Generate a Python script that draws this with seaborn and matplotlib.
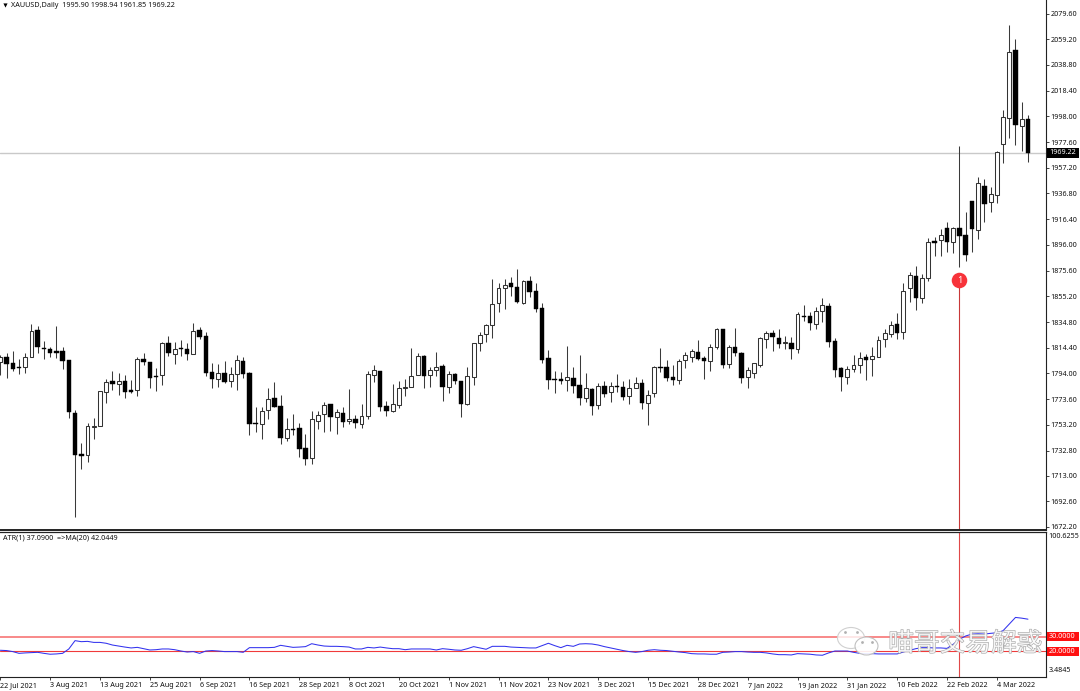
import matplotlib
matplotlib.use("Agg")
import matplotlib.pyplot as plt
from matplotlib.patches import Ellipse
import matplotlib.patheffects as pe
import numpy as np
import pandas as pd
import seaborn as sns

highs = [
1808.7,1810.5,1811.6,1805.3,1810.0,1833.0,1831.7,1819.8,1814.8,1831.7,
1814.8,1804.7,1765.0,1738.6,1754.5,1758.4,1780.1,1789.4,1795.7,1794.1,
1792.8,1788.9,1806.8,1810.0,1803.4,1798.1,1819.3,1823.8,1819.3,1820.6,
1817.9,1833.8,1830.6,1827.2,1802.6,1801.3,1803.9,1798.9,1808.7,1806.8,
1795.5,1767.4,1767.2,1782.2,1787.2,1776.6,1758.4,1761.5,1754.4,1745.9,
1764.2,1764.2,1771.6,1769.7,1765.5,1767.6,1781.4,1761.0,1769.7,1796.2,
1800.7,1796.2,1772.4,1785.3,1788.3,1789.6,1814.2,1809.9,1808.6,1799.4,
1810.7,1801.2,1796.2,1794.1,1788.3,1798.8,1818.4,1826.6,1833.0,1868.7,
1866.0,1868.7,1870.2,1877.1,1868.1,1871.3,1866.0,1849.6,1812.6,1796.2,
1794.9,1815.8,1799.4,1808.6,1794.6,1782.2,1786.1,1787.7,1787.5,1793.3,
1787.7,1789.6,1791.4,1789.3,1780.8,1799.9,1814.2,1804.6,1800.4,1805.2,
1810.7,1813.4,1820.5,1808.1,1817.1,1830.0,1829.5,1816.3,1829.8,1811.3,
1798.8,1802.5,1822.6,1827.9,1828.5,1829.0,1823.7,1823.2,1843.0,1848.3,
1843.0,1847.0,1853.6,1850.1,1822.4,1799.3,1800.1,1808.6,1811.3,1809.4,
1815.0,1823.7,1829.0,1835.9,1841.7,1865.5,1874.7,1879.5,1872.6,1901.2,
1902.5,1908.3,1913.9,1910.4,1974.4,1921.8,1930.8,1950.1,1948.0,1941.6,
1970.5,2003.0,2070.4,2059.3,2009.3,1998.94]

lows = [
1792.8,1790.2,1796.3,1793.6,1794.7,1806.8,1810.5,1805.3,1807.4,1806.6,
1797.8,1758.4,1680.4,1718.0,1724.1,1741.8,1752.4,1770.9,1780.9,1777.0,
1774.6,1778.3,1776.4,1800.5,1782.2,1780.1,1784.9,1807.9,1801.6,1808.2,
1804.7,1809.2,1821.1,1792.3,1782.5,1783.6,1786.7,1783.6,1780.7,1790.4,
1745.2,1747.3,1741.8,1757.9,1767.1,1738.0,1740.6,1745.1,1727.9,1721.3,
1722.1,1749.6,1747.8,1748.3,1745.9,1751.7,1753.9,1750.4,1750.4,1757.6,
1786.9,1764.4,1760.2,1763.7,1766.6,1776.1,1783.0,1792.5,1782.4,1783.0,
1792.2,1771.9,1778.7,1785.6,1759.2,1769.2,1784.8,1812.1,1818.7,1821.8,
1842.5,1844.9,1855.7,1849.9,1849.4,1854.9,1843.0,1802.0,1781.6,1778.2,
1785.6,1780.1,1778.2,1769.2,1771.6,1761.3,1765.8,1775.6,1771.6,1779.5,
1772.9,1770.0,1782.2,1766.0,1752.8,1775.6,1795.4,1788.3,1784.8,1785.6,
1798.6,1802.8,1804.6,1789.3,1796.2,1813.6,1798.0,1798.6,1808.1,1786.1,
1782.4,1790.4,1799.4,1814.4,1812.1,1814.4,1813.1,1805.2,1810.5,1835.6,
1828.4,1829.5,1835.1,1814.7,1791.4,1780.0,1785.6,1795.4,1794.1,1788.8,
1792.2,1806.8,1815.2,1823.2,1821.6,1821.0,1850.7,1844.3,1850.1,1867.3,
1887.2,1887.4,1890.6,1889.3,1878.1,1882.9,1890.6,1900.9,1913.8,1921.8,
1929.5,1960.7,1980.5,1975.2,1970.7,1961.85]

opens = [
1803.4,1807.4,1802.6,1798.9,1799.4,1806.8,1828.5,1814.2,1813.2,1811.6,
1811.6,1804.7,1762.9,1730.1,1729.6,1751.3,1752.6,1779.1,1787.8,1785.7,
1787.8,1780.9,1780.9,1805.5,1803.1,1792.0,1793.1,1818.5,1809.2,1814.5,
1813.7,1809.2,1828.5,1823.5,1794.9,1789.4,1794.4,1788.1,1793.4,1804.2,
1794.7,1754.7,1754.2,1765.0,1774.8,1768.4,1743.0,1750.2,1750.7,1734.6,
1726.9,1756.5,1761.5,1769.7,1759.7,1762.9,1756.0,1757.8,1754.1,1760.2,
1793.0,1795.9,1768.1,1764.4,1768.7,1782.2,1783.0,1793.0,1807.8,1793.0,
1796.7,1800.2,1783.0,1793.3,1787.7,1769.5,1791.4,1817.9,1825.3,1832.4,
1849.6,1861.5,1866.0,1862.8,1849.6,1867.1,1859.1,1846.2,1806.0,1789.3,
1789.6,1788.5,1790.6,1785.1,1774.2,1781.4,1768.9,1784.3,1779.0,1784.3,
1783.2,1775.8,1782.7,1786.4,1770.8,1778.2,1798.8,1799.4,1791.4,1788.5,
1804.4,1807.3,1811.0,1806.2,1804.1,1815.0,1829.0,1801.5,1814.7,1810.5,
1791.2,1794.6,1800.9,1821.0,1825.8,1822.1,1817.9,1818.4,1813.4,1839.3,
1839.3,1833.2,1843.3,1847.8,1819.7,1798.0,1790.9,1797.2,1800.4,1806.8,
1805.2,1807.3,1821.0,1825.5,1833.2,1826.6,1861.5,1871.6,1853.6,1869.4,
1898.8,1899.6,1909.1,1898.5,1909.1,1903.5,1930.8,1907.8,1942.4,1929.7,
1935.5,1976.3,1996.9,2050.6,1990.6,1995.90]

closes = [
1807.1,1801.6,1797.3,1798.1,1806.8,1827.5,1814.8,1813.5,1810.0,1810.5,
1804.2,1763.7,1729.6,1728.8,1752.1,1752.6,1779.9,1787.0,1785.9,1787.8,
1779.6,1779.6,1805.8,1802.9,1790.4,1791.2,1818.2,1810.5,1813.7,1813.7,
1809.2,1827.7,1823.2,1794.1,1789.4,1794.7,1787.3,1793.4,1805.0,1793.6,
1753.7,1754.2,1764.0,1774.0,1767.6,1742.5,1749.9,1749.4,1733.8,1726.4,
1757.6,1760.7,1769.2,1759.7,1763.1,1755.2,1757.6,1754.4,1759.9,1793.3,
1796.5,1767.1,1764.4,1769.5,1782.2,1783.2,1792.2,1808.1,1792.2,1797.0,
1798.8,1783.2,1793.3,1788.3,1769.7,1791.7,1817.9,1824.2,1832.2,1849.4,
1861.5,1864.2,1862.8,1850.4,1867.3,1858.6,1845.4,1804.6,1788.8,1788.5,
1788.3,1791.2,1784.3,1774.5,1782.2,1768.4,1783.8,1777.9,1783.8,1783.2,
1775.0,1782.7,1786.1,1770.8,1777.1,1799.4,1798.0,1790.6,1788.8,1803.6,
1808.4,1811.5,1805.7,1804.1,1814.7,1829.0,1800.9,1814.7,1810.2,1790.6,
1796.5,1802.0,1821.8,1825.8,1822.6,1817.6,1819.2,1813.6,1840.9,1838.8,
1834.3,1843.3,1848.0,1818.9,1796.7,1791.4,1797.2,1800.9,1806.5,1804.6,
1807.8,1820.2,1825.8,1832.7,1826.3,1859.1,1871.8,1853.6,1869.4,1898.0,
1897.2,1903.6,1898.0,1909.1,1903.3,1887.9,1908.3,1944.8,1928.1,1936.3,
1969.9,1997.4,2049.3,1991.1,1996.1,1969.22]

atr_ma = [
20.7,20.5,19.8,18.6,18.9,19.1,19.3,18.6,18.0,18.2,
18.6,21.6,27.3,26.6,26.8,26.1,26.1,25.5,24.3,23.6,
22.9,22.3,22.7,21.8,20.9,21.1,21.6,21.6,21.1,20.2,
19.5,19.8,18.6,20.2,20.5,20.2,19.8,19.8,19.8,19.3,
22.5,22.5,22.5,22.5,22.7,24.1,23.4,22.7,22.9,23.2,
25.2,24.3,23.6,23.4,23.4,23.2,22.9,21.6,21.6,22.7,
22.3,22.9,22.3,21.8,21.8,21.1,21.6,21.6,21.6,21.6,
20.9,21.8,21.4,20.9,20.7,21.8,23.2,22.3,21.4,23.4,
23.4,23.4,22.9,22.7,22.5,22.3,22.3,23.9,25.5,23.9,
22.5,24.1,23.4,25.0,25.2,25.0,24.3,23.2,22.3,21.4,
20.5,19.8,19.3,19.8,20.7,21.1,20.7,20.5,20.0,19.5,
19.1,18.4,18.2,18.2,18.0,18.0,19.3,19.5,19.8,19.8,
19.5,19.3,19.3,18.9,18.2,17.7,17.7,17.5,18.4,18.2,
18.0,17.5,17.3,18.9,20.2,20.2,20.2,19.3,18.6,18.4,
18.4,18.2,18.2,18.2,18.2,19.5,20.7,21.8,22.5,22.5,
22.3,22.3,22.0,24.8,28.2,30.5,31.8,32.0,31.8,32.3,
32.7,34.1,38.6,43.2,42.7,42.0]

price_ticks = [2079.6,2059.2,2038.8,2018.4,1998.0,1977.6,1957.2,1936.8,1916.4,1896.0,1875.6,
               1855.2,1834.8,1814.4,1794.0,1773.6,1753.2,1732.8,1713.0,1692.6,1672.2]
date_labels = ["22 Jul 2021","3 Aug 2021","13 Aug 2021","25 Aug 2021","6 Sep 2021","16 Sep 2021",
               "28 Sep 2021","8 Oct 2021","20 Oct 2021","1 Nov 2021","11 Nov 2021","23 Nov 2021",
               "3 Dec 2021","15 Dec 2021","28 Dec 2021","7 Jan 2022","19 Jan 2022","31 Jan 2022",
               "10 Feb 2022","22 Feb 2022","4 Mar 2022"]
date_bars = list(range(0, 168, 8))
last_price = 1969.22
level_high, level_low = 30.0, 20.0
event_bar = 154
event_price = 1868.2

sns.set_theme(style="white")
plt.rcParams["font.family"] = ["Noto Sans", "DejaVu Sans"]
FS = 5.2
W, H = 1080, 691
fig = plt.figure(figsize=(W/100, H/100), dpi=100, facecolor="white")

def box(left, top, right, bottom):
    return [left/W, (H-bottom)/H, (right-left)/W, (bottom-top)/H]

ax = fig.add_axes(box(0, 0, 1046, 529.5))
sub = fig.add_axes(box(0, 532, 1046, 677))
XLIM = (-0.05, 1046/6.23)

df = pd.DataFrame({"bar": np.arange(len(highs)), "open": opens, "high": highs, "low": lows,
                   "close": closes, "ma": atr_ma})
up = df[df.close >= df.open]
down = df[df.close < df.open]

ax.axhline(last_price, color="#c9c9c9", lw=1.0, zorder=1)
ax.vlines(event_bar, 1600, event_price, color="#c83838", lw=0.8, zorder=1)
ax.vlines(df.bar, df.low, df.high, color="#3a3a3a", lw=0.75, zorder=2)
ax.bar(up.bar, (up.close-up.open), bottom=up.open, width=0.62, color="white",
       edgecolor="#333333", linewidth=0.75, zorder=3)
ax.bar(down.bar, (down.open-down.close), bottom=down.close, width=0.72, color="black",
       edgecolor="black", linewidth=0.3, zorder=3)
ax.scatter([event_bar], [event_price], s=125, color="#f7333a", zorder=5, linewidths=0)
ax.text(event_bar, event_price-0.3, "1", color="white", fontsize=6.5, ha="center", va="center", zorder=6)
ax.set_xlim(*XLIM)
ax.set_ylim(2079.6-(529.5-13.5)*0.7934, 2079.6+13.5*0.7934)
ax.yaxis.tick_right()
ax.set_yticks(price_ticks)
ax.set_yticklabels([f"{v:.2f}" for v in price_ticks], fontsize=FS, color="#111111")
ax.set_xticks([])
ax.tick_params(axis="y", length=2.5, width=0.6, pad=0.8, color="#222222", right=True)

sub.axhline(level_high, color="#f66a6a", lw=1.1, zorder=1)
sub.axhline(level_low, color="#f03a3a", lw=0.8, zorder=1)
sub.axvline(event_bar, color="#e04848", lw=0.8, zorder=1)
sns.lineplot(data=df, x="bar", y="ma", ax=sub, color="#3232ee", lw=0.75, zorder=3, legend=False)
sub.set_xlim(*XLIM)
sub.set_ylim(20-(677-651.3)/1.46, 20+(651.3-532)/1.46)
sub.set_xlabel(""); sub.set_ylabel("")
sub.yaxis.tick_right()
sub.set_yticks([])
sub.set_xticks(date_bars)
sub.set_xticklabels(date_labels, fontsize=FS, color="#111111", ha="left")
sub.tick_params(axis="x", length=2.5, width=0.6, pad=1.0, color="#222222", bottom=True)

for a in (ax, sub):
    for s in ("top", "left"):
        a.spines[s].set_visible(False)
    for s in ("right", "bottom"):
        a.spines[s].set_visible(True)
        a.spines[s].set_color("#222222")
        a.spines[s].set_linewidth(0.8)
sub.spines["top"].set_visible(True); sub.spines["top"].set_color("#222222"); sub.spines["top"].set_linewidth(0.9)
ax.spines["bottom"].set_linewidth(1.4)

# Pixel-space overlay for the header texts, axis badges and the watermark
ov = fig.add_axes([0, 0, 1, 1], facecolor="none", zorder=20)
ov.set_xlim(0, W); ov.set_ylim(H, 0); ov.axis("off")
ov.scatter([5], [5], marker="v", s=9, color="black", linewidths=0)
ov.text(11, 5, "XAUUSD,Daily  1995.90 1998.94 1961.85 1969.22", fontsize=FS, va="center", ha="left", color="#111111")
ov.text(3, 538, "ATR(1) 37.0900  =>MA(20) 42.0449", fontsize=FS, va="center", ha="left", color="#111111")
ov.text(1048.5, 537, "100.6255", fontsize=FS, va="center", ha="left", color="#111111")
ov.text(1049, 671, "3.4845", fontsize=FS, va="center", ha="left", color="#111111")

for top, bottom, colour, txt, tc in [(147.5, 158, "black", "1969.22", "white"),
                                     (632, 640.5, "#ff1010", "30.0000", "white"),
                                     (647, 655.5, "#ff1010", "20.0000", "white")]:
    ov.fill_between([1046.5, 1079], top, bottom, color=colour, lw=0)
    ov.text(1049, (top+bottom)/2, txt, fontsize=FS, va="center", ha="left", color=tc)

ov.add_patch(Ellipse((851, 638), 27, 21, fc=(1, 1, 1, 0.8), ec="#d0d0d0", lw=0.8))
ov.add_patch(Ellipse((866.5, 646), 23, 18, fc=(1, 1, 1, 0.9), ec="#c0c0c0", lw=0.8))
ov.scatter([845, 857, 862, 872], [632, 632, 642, 642], s=4, color="#b0b0b0", linewidths=0)
ov.text(965.5, 644, "喵哥交易解惑", family=["Noto Sans CJK SC", "DejaVu Sans"], fontsize=18.5, ha="center", va="center",
        color=(1, 1, 1, 0.75), path_effects=[pe.withStroke(linewidth=0.8, foreground="#a8a8a8")])

fig.savefig("out.png", dpi=100, facecolor="white")
